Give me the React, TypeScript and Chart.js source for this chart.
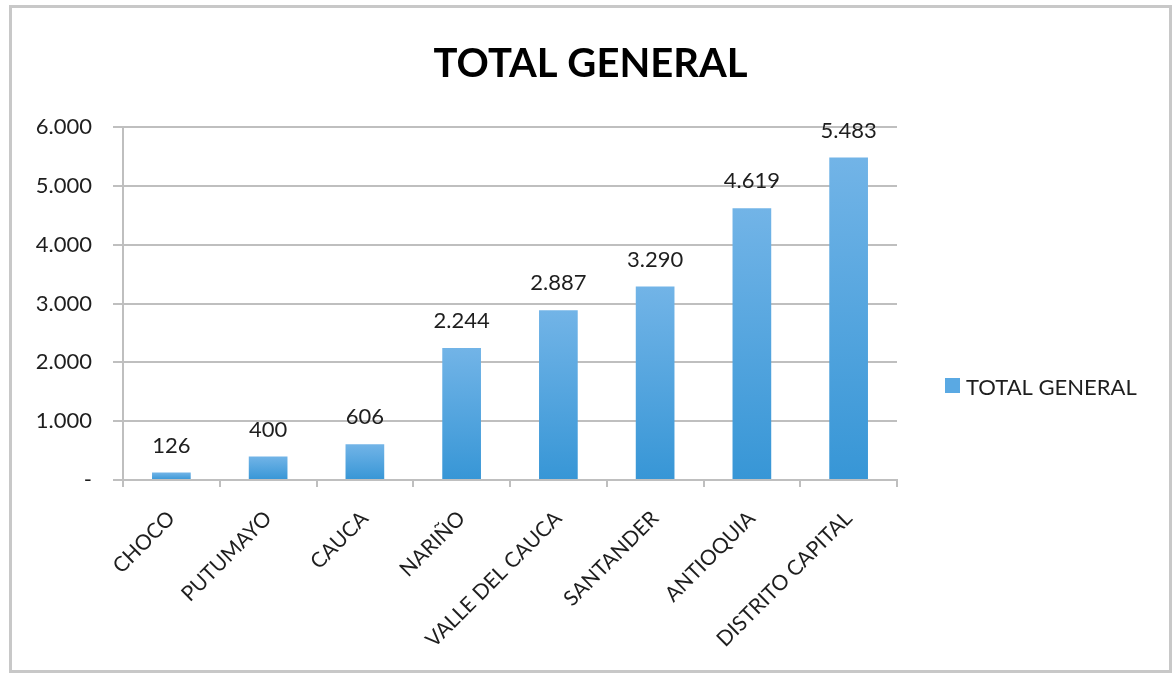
import React, { useEffect, useRef } from "react";
import { Chart, registerables } from "chart.js";

Chart.register(...registerables);

const categories = ["CHOCO", "PUTUMAYO", "CAUCA", "NARIÑO", "VALLE DEL CAUCA", "SANTANDER", "ANTIOQUIA", "DISTRITO CAPITAL"];
const totals = [126, 400, 606, 2244, 2887, 3290, 4619, 5483];
const seriesLabel = "TOTAL GENERAL";
const chartTitle = "TOTAL GENERAL";
const yMax = 6000;
const yStep = 1000;

const FONT = "Lato, 'Open Sans', sans-serif";
const GRID = "#bfbfbf";
const TEXT = "#1e1e1e";

function fmt(v: number): string {
  if (v === 0) return "-";
  const s = Math.round(v).toString();
  return s.replace(/\B(?=(\d{3})+(?!\d))/g, ".");
}

const valueLabels = {
  id: "valueLabels",
  afterDatasetsDraw(chart: any) {
    const ctx = chart.ctx;
    const meta = chart.getDatasetMeta(0);
    const data = chart.data.datasets[0].data as number[];
    ctx.save();
    ctx.font = `22px ${FONT}`;
    ctx.fillStyle = TEXT;
    ctx.textAlign = "center";
    ctx.textBaseline = "middle";
    meta.data.forEach((el: any, i: number) => {
      ctx.fillText(fmt(data[i]), el.x, el.y - 27);
    });
    ctx.restore();
  },
};

const sideLegend = {
  id: "sideLegend",
  afterDraw(chart: any) {
    const ctx = chart.ctx;
    const area = chart.chartArea;
    const x = area.right + 48;
    const yc = area.bottom - 94;
    ctx.save();
    ctx.fillStyle = "#5aa9e3";
    ctx.fillRect(x, yc - 8, 15, 15);
    ctx.font = `22px ${FONT}`;
    ctx.fillStyle = TEXT;
    ctx.textAlign = "left";
    ctx.textBaseline = "middle";
    ctx.fillText(chart.data.datasets[0].label, x + 21, yc + 2);
    ctx.restore();
  },
};

export default function App() {
  const ref = useRef<HTMLCanvasElement | null>(null);

  useEffect(() => {
    if (!ref.current) return;
    const chart = new Chart(ref.current, {
      type: "bar",
      data: {
        labels: categories,
        datasets: [
          {
            label: seriesLabel,
            data: totals,
            barPercentage: 0.4,
            categoryPercentage: 1.0,
            backgroundColor: (c: any) => {
              const ch = c.chart;
              if (!ch.chartArea || c.type !== "data") return "#4aa3df";
              const ys = ch.scales.y;
              const top = ys.getPixelForValue(c.raw);
              const bottom = ys.getPixelForValue(0);
              if (!isFinite(top) || !isFinite(bottom) || top === bottom) return "#4aa3df";
              const g = ch.ctx.createLinearGradient(0, top, 0, bottom);
              g.addColorStop(0, "#72b4e7");
              g.addColorStop(1, "#3796d6");
              return g;
            },
          },
        ],
      },
      options: {
        animation: false,
        responsive: false,
        maintainAspectRatio: false,
        layout: { padding: 0 },
        plugins: {
          legend: { display: false },
          tooltip: { enabled: false },
          title: {
            display: true,
            text: chartTitle,
            color: "#000",
            font: { family: FONT, size: 40, weight: "bold" },
            padding: { top: 32, bottom: 39 },
          },
        },
        scales: {
          x: {
            grid: {
              display: true,
              drawOnChartArea: false,
              drawTicks: true,
              tickLength: 7,
              color: GRID,
              lineWidth: 2,
              offset: true,
            },
            border: { color: GRID, width: 2 },
            ticks: {
              maxRotation: 45,
              minRotation: 45,
              autoSkip: false,
              color: TEXT,
              font: { family: FONT, size: 21 },
              padding: 19,
            },
            afterFit(scale: any) {
              scale.height = 190;
            },
          },
          y: {
            min: 0,
            max: yMax,
            ticks: {
              stepSize: yStep,
              color: TEXT,
              font: { family: FONT, size: 22 },
              padding: 21,
              callback: (v: any) => fmt(Number(v)),
            },
            grid: { color: GRID, lineWidth: 2, tickLength: 10, drawTicks: true },
            border: { color: GRID, width: 2 },
            afterFit(scale: any) {
              scale.width = 111;
            },
          },
          legendSpace: {
            type: "linear",
            position: "right",
            display: true,
            grid: { display: false, drawTicks: false },
            border: { display: false },
            ticks: { display: false },
            afterFit(scale: any) {
              scale.width = 272;
            },
          },
        },
      },
      plugins: [valueLabels, sideLegend],
    });
    return () => chart.destroy();
  }, []);

  return (
    <div
      style={{
        position: "absolute",
        left: 9,
        top: 5,
        width: 1163,
        height: 668,
        border: "3px solid #c8c8c8",
        boxSizing: "border-box",
        background: "#fff",
      }}
    >
      <canvas ref={ref} width={1157} height={662} style={{ display: "block", width: 1157, height: 662 }} />
    </div>
  );
}
